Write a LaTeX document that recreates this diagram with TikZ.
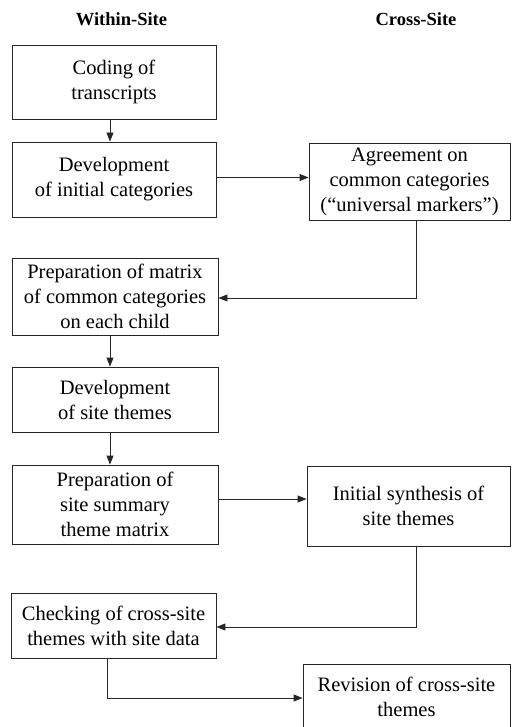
\documentclass[tikz,border=0pt]{standalone}
\usepackage{fontspec}
\setmainfont{Liberation Serif}
\usetikzlibrary{arrows.meta}
\begin{document}
\begin{tikzpicture}[x=1pt,y=-1pt,
  box/.style={draw=black!85,line width=0.9pt,inner sep=0pt,align=center,
    font=\fontsize{20.5}{25}\selectfont},
  head/.style={font=\fontsize{18.5}{22}\selectfont\bfseries},
  conn/.style={draw=black!85,line width=0.9pt,-{Triangle[length=9pt,width=7pt]}}]
\useasboundingbox (0,0) rectangle (511,727);
\node[head] (h1) at (121.5,19) {Within-Site};
\node[head] (h2) at (416,19) {Cross-Site};
\node[box,minimum width=204pt,minimum height=74pt] (b1) at (114,82) {Coding of\\transcripts};
\node[box,minimum width=204pt,minimum height=75pt] (b2) at (114,179.5) {Development\\of initial categories};
\node[box,minimum width=201pt,minimum height=77pt] (b3) at (409.5,181.5) {Agreement on\\common categories\\(``universal markers'')};
\node[box,minimum width=206pt,minimum height=77pt] (b4) at (115,296.5) {Preparation of matrix\\of common categories\\on each child};
\node[box,minimum width=206pt,minimum height=65pt] (b5) at (115,399.5) {Development\\of site themes};
\node[box,minimum width=206pt,minimum height=79pt] (b6) at (115,504.5) {Preparation of\\site summary\\theme matrix};
\node[box,minimum width=203pt,minimum height=80pt] (b7) at (408.5,506) {Initial synthesis of\\site themes};
\node[box,minimum width=205pt,minimum height=65pt] (b8) at (113.5,625.5) {Checking of cross-site\\themes with site data};
\node[box,minimum width=207pt,minimum height=66pt] (b9) at (406.5,697) {Revision of cross-site\\themes};
\draw[conn] ([xshift=-4pt]b1.south) -- ([xshift=-4pt]b2.north);
\draw[conn] ([yshift=2pt]b2.east) -- ([yshift=2pt]b2.east -| b3.west);
\draw[conn] ([xshift=6.5pt]b3.south) |- ([yshift=-1.5pt]b4.east);
\draw[conn] ([xshift=-5pt]b4.south) -- ([xshift=-5pt]b5.north);
\draw[conn] ([xshift=-5pt]b5.south) -- ([xshift=-5pt]b6.north);
\draw[conn] ([yshift=5.5pt]b6.east) -- ([yshift=5.5pt]b6.east -| b7.west);
\draw[conn] ([xshift=7.5pt]b7.south) |- ([yshift=-1.5pt]b8.east);
\draw[conn] ([xshift=-6.5pt]b8.south) |- (b9.west |- 0,698);
\end{tikzpicture}
\end{document}
